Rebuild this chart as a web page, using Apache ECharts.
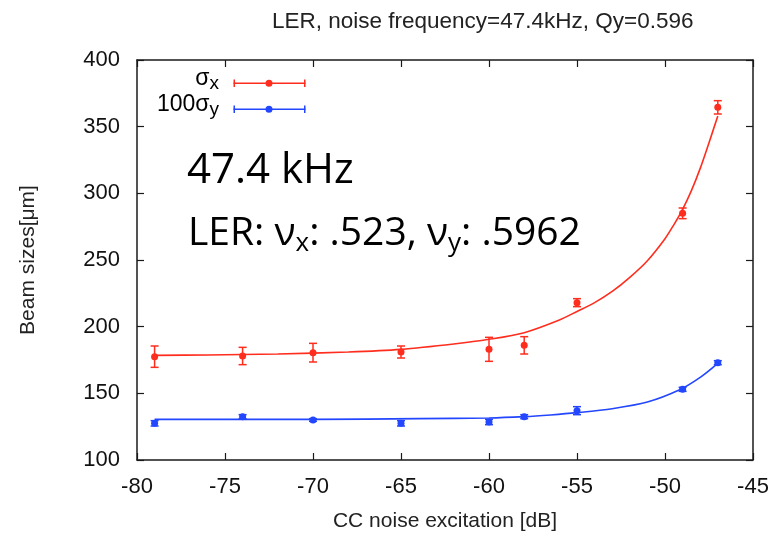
<!DOCTYPE html>
<html>
<head>
<meta charset="utf-8">
<script src="https://cdn.jsdelivr.net/npm/echarts@6/dist/echarts.min.js"></script>
<style>
html,body{margin:0;padding:0;background:#fff;}
#chart{width:775px;height:542px;}
</style>
</head>
<body>
<div id="chart"></div>
<script>
// ---- data ----
const noiseDb = [-79, -74, -70, -65, -60, -58, -55, -49, -47];
const sigmaX = [177.5, 178, 180.5, 181, 183, 186, 218, 285, 364.5];
const sigmaXErr = [8, 6.5, 7, 4.5, 9, 6.5, 3, 4, 5];
const sigmaY100 = [127.5, 132.5, 130, 127.5, 128.5, 132.5, 137, 153, 173];
const sigmaY100Err = [2, 1.5, 1, 2, 2, 1.5, 3, 1.5, 1.5];
// fitted curves
const fitXdb = [-79, -76, -72, -68, -65, -62, -60, -58, -56, -55, -54, -53, -52, -51, -50, -49.5, -49, -48.5, -48, -47.5, -47];
const fitXval = [178.5, 178.8, 179.5, 181, 183, 187, 190.5, 195.5, 205, 211.4, 218, 226.4, 237, 249.5, 266, 276.4, 288, 302, 318.7, 338, 358];
const fitYdb = [-79, -70, -64, -60, -58, -56.5, -55, -53, -51, -49.2, -48, -47];
const fitYval = [130.5, 130.5, 131, 131.5, 132.5, 133.8, 135.5, 138.5, 143.5, 152.5, 162, 172.5];
const xTicks = [-80, -45, 5];
const yTicks = [100, 400, 50];

const RED = '#ff2d1e';
const BLUE = '#2346ff';
const FONT = 'Liberation Sans, Arial, sans-serif';

function zip3(a, b, c) { return a.map((v, i) => [v, b[i], c[i]]); }
function zip2(a, b) { return a.map((v, i) => [v, b[i]]); }

function errRender(params, api) {
  const x = api.value(0), y = api.value(1), e = api.value(2);
  const p = api.coord([x, y]);
  const t = api.coord([x, y + e]);
  const b = api.coord([x, y - e]);
  const color = api.visual('color');
  const cw = 4;
  const ls = { stroke: color, lineWidth: 1.5 };
  return {
    type: 'group',
    children: [
      { type: 'line', shape: { x1: t[0], y1: t[1], x2: b[0], y2: b[1] }, style: ls },
      { type: 'line', shape: { x1: t[0] - cw, y1: t[1], x2: t[0] + cw, y2: t[1] }, style: ls },
      { type: 'line', shape: { x1: b[0] - cw, y1: b[1], x2: b[0] + cw, y2: b[1] }, style: ls },
      { type: 'circle', shape: { cx: p[0], cy: p[1], r: 3.5 }, style: { fill: color } }
    ]
  };
}

const axisCommon = {
  axisLine: { show: true, lineStyle: { color: '#1a1a1a', width: 1.5 } },
  axisTick: { show: true, inside: true, length: 7, lineStyle: { color: '#1a1a1a', width: 1.2 } },
  splitLine: { show: false }
};

const chart = echarts.init(document.getElementById('chart'), null, { renderer: 'canvas' });
const option = {
  animation: false,
  title: {
    text: 'LER, noise frequency=47.4kHz, Qy=0.596',
    left: 267, top: 5,
    textStyle: { fontFamily: FONT, fontSize: 22.5, fontWeight: 'normal', color: '#222' }
  },
  grid: { left: 137, right: 22, top: 60, bottom: 82 },
  xAxis: [
    Object.assign({}, axisCommon, {
      type: 'value', position: 'bottom', min: xTicks[0], max: xTicks[1], interval: xTicks[2],
      name: 'CC noise excitation [dB]', nameLocation: 'middle', nameGap: 51,
      nameTextStyle: { fontFamily: FONT, fontSize: 21, color: '#222' },
      axisLabel: { fontFamily: FONT, fontSize: 22, color: '#111', margin: 16 }
    }),
    Object.assign({}, axisCommon, {
      type: 'value', position: 'top', min: xTicks[0], max: xTicks[1], interval: xTicks[2],
      axisLabel: { show: false }
    })
  ],
  yAxis: [
    Object.assign({}, axisCommon, {
      type: 'value', position: 'left', min: yTicks[0], max: yTicks[1], interval: yTicks[2],
      name: 'Beam sizes[μm]', nameLocation: 'middle', nameGap: 98, nameRotate: 90,
      nameTextStyle: { fontFamily: FONT, fontSize: 21, color: '#222' },
      axisLabel: { fontFamily: FONT, fontSize: 22, color: '#111', margin: 17 }
    }),
    Object.assign({}, axisCommon, {
      type: 'value', position: 'right', min: yTicks[0], max: yTicks[1], interval: yTicks[2],
      axisLabel: { show: false }
    })
  ],
  series: [
    {
      name: 'fitX', type: 'line', data: zip2(fitXdb, fitXval), showSymbol: false,
      smooth: 0.3,
      lineStyle: { color: RED, width: 1.6 }, itemStyle: { color: RED }, z: 2
    },
    {
      name: 'fitY', type: 'line', data: zip2(fitYdb, fitYval), showSymbol: false,
      smooth: 0.3,
      lineStyle: { color: BLUE, width: 1.6 }, itemStyle: { color: BLUE }, z: 2
    },
    {
      name: 'σx', type: 'custom', renderItem: errRender, data: zip3(noiseDb, sigmaX, sigmaXErr),
      itemStyle: { color: RED }, encode: { x: 0, y: 1 }, z: 3
    },
    {
      name: '100σy', type: 'custom', renderItem: errRender, data: zip3(noiseDb, sigmaY100, sigmaY100Err),
      itemStyle: { color: BLUE }, encode: { x: 0, y: 1 }, z: 3
    }
  ],
  graphic: [
    // legend
    { type: 'text', right: 775 - 219, top: 67, style: {
        text: '{g|σ}{s|x}', textAlign: 'right',
        rich: { g: { fontFamily: FONT, fontSize: 23, color: '#111' }, s: { fontFamily: FONT, fontSize: 19, color: '#111', padding: [10, 0, 0, 0] } }
      } },
    { type: 'text', right: 775 - 219, top: 93, style: {
        text: '{g|100σ}{s|y}', textAlign: 'right',
        rich: { g: { fontFamily: FONT, fontSize: 23, color: '#111' }, s: { fontFamily: FONT, fontSize: 19, color: '#111', padding: [10, 0, 0, 0] } }
      } },
    { type: 'group', left: 231, top: 77, children: [
        { type: 'line', shape: { x1: 0, y1: 3.7, x2: 72, y2: 3.7 }, style: { stroke: RED, lineWidth: 1.5 } },
        { type: 'line', shape: { x1: 0.75, y1: 0, x2: 0.75, y2: 7.4 }, style: { stroke: RED, lineWidth: 1.5 } },
        { type: 'line', shape: { x1: 71.25, y1: 0, x2: 71.25, y2: 7.4 }, style: { stroke: RED, lineWidth: 1.5 } },
        { type: 'circle', shape: { cx: 35.5, cy: 3.7, r: 3.5 }, style: { fill: RED } }
      ] },
    { type: 'group', left: 231, top: 103, children: [
        { type: 'line', shape: { x1: 0, y1: 3.7, x2: 72, y2: 3.7 }, style: { stroke: BLUE, lineWidth: 1.5 } },
        { type: 'line', shape: { x1: 0.75, y1: 0, x2: 0.75, y2: 7.4 }, style: { stroke: BLUE, lineWidth: 1.5 } },
        { type: 'line', shape: { x1: 71.25, y1: 0, x2: 71.25, y2: 7.4 }, style: { stroke: BLUE, lineWidth: 1.5 } },
        { type: 'circle', shape: { cx: 35.5, cy: 3.7, r: 3.5 }, style: { fill: BLUE } }
      ] },
    // annotations
    { type: 'text', left: 187, top: 150, style: {
        text: '47.4 kHz', fontFamily: 'Open Sans, sans-serif', fontSize: 42, fill: '#000'
      } },
    { type: 'text', left: 188, top: 214, style: {
        text: '{m|LER: ν}{s|x}{m|: .523, ν}{s|y}{m|: .5962}',
        rich: {
          m: { fontFamily: 'Open Sans, sans-serif', fontSize: 39, color: '#000' },
          s: { fontFamily: 'Open Sans, sans-serif', fontSize: 26, color: '#000', padding: [20, 0, 0, 0] }
        }
      } }
  ]
};
chart.setOption(option);
</script>
</body>
</html>
